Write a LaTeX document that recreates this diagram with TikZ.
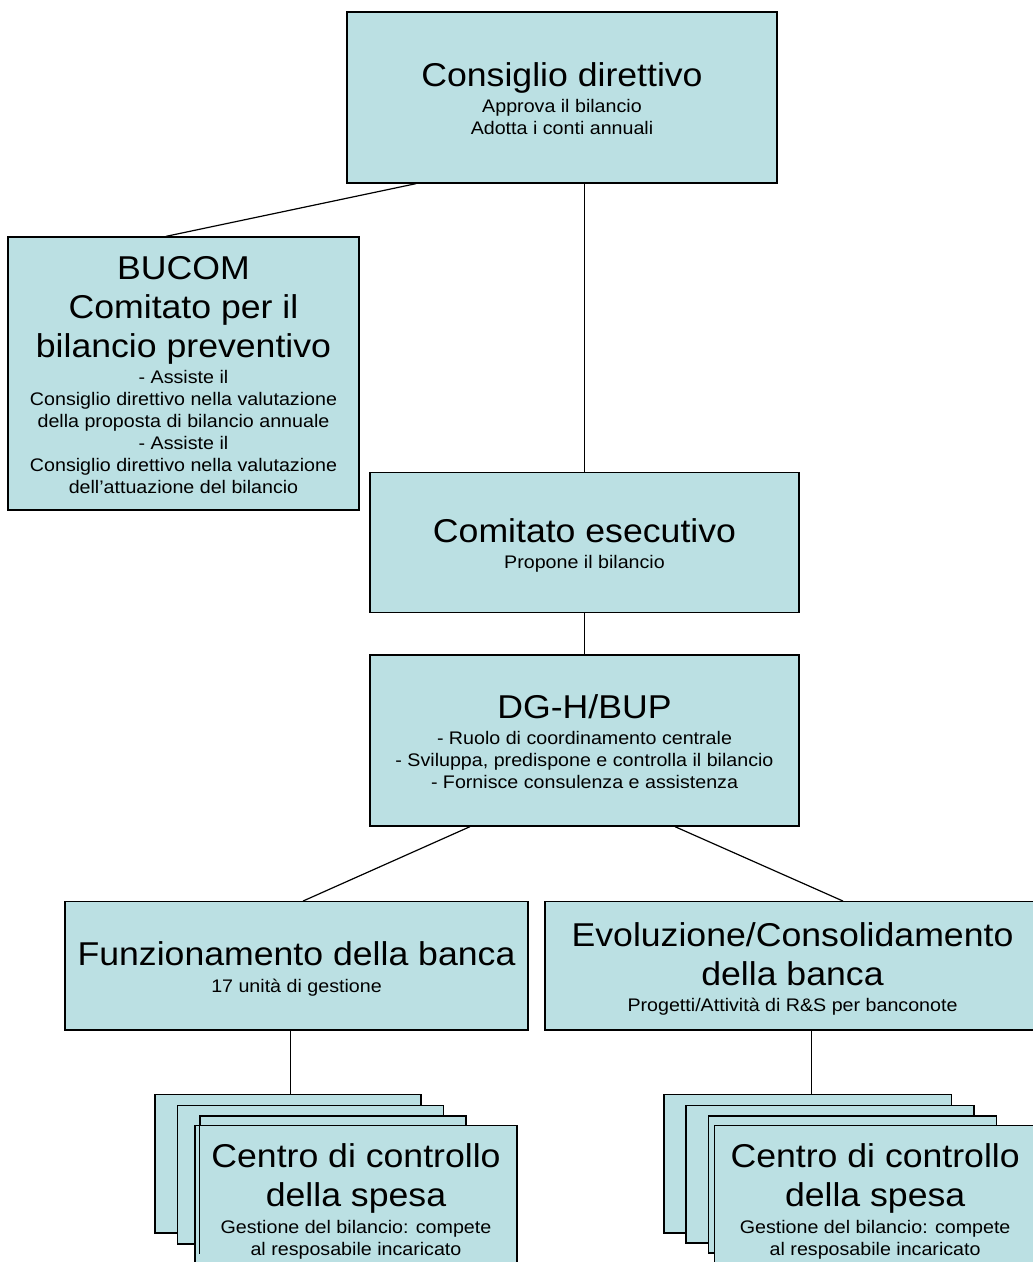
\documentclass[tikz,border=0pt]{standalone}
\usepackage{fontspec}
\setmainfont{Liberation Sans}
\newfontfamily\stretchsans[FakeStretch=1.08]{Liberation Sans}
\definecolor{boxfill}{HTML}{BBE0E3}
\newcommand\Tl[1]{{\stretchsans\fontsize{33}{0}\selectfont\rule[-8.85pt]{0pt}{39pt}#1}}
\newcommand\Sb[1]{{\stretchsans\fontsize{18.2}{0}\selectfont\rule[-4.35pt]{0pt}{22pt}#1}}
\tikzset{
  box/.style={draw=black, fill=boxfill, line width=1.3pt, inner sep=0pt, align=center,
    font={\setlength\baselineskip{0pt}\setlength\lineskip{0pt}\setlength\lineskiplimit{0pt}}},
  conn/.style={draw=black, line width=1.2pt},
  edge/.style={draw=black, line width=1.3pt}
}
\begin{document}
\begin{tikzpicture}[x=1pt,y=-1pt]
\useasboundingbox (0,0) rectangle (1033,1262);
% main boxes
\node[box, minimum width=430, minimum height=171] (cd) at (562,97.5)
  {\Tl{Consiglio direttivo}\\ \Sb{Approva il bilancio}\\ \Sb{Adotta i conti annuali}};
\node[box, minimum width=351, minimum height=273] (bucom) at (183.5,373.5)
  {\Tl{BUCOM}\\ \Tl{Comitato per il}\\ \Tl{bilancio preventivo}\\
   \Sb{- Assiste il}\\ \Sb{Consiglio direttivo nella valutazione}\\
   \Sb{della proposta di bilancio annuale}\\ \Sb{- Assiste il}\\
   \Sb{Consiglio direttivo nella valutazione}\\ \Sb{dell’attuazione del bilancio}};
\node[box, minimum width=429, minimum height=139.6] (ce) at (584.5,542.5)
  {\Tl{Comitato esecutivo}\\ \Sb{Propone il bilancio}};
\node[box, minimum width=429, minimum height=171] (dg) at (584.5,740.5)
  {\Tl{DG-H/BUP}\\ \Sb{- Ruolo di coordinamento centrale}\\
   \Sb{- Sviluppa, predispone e controlla il bilancio}\\
   \Sb{- Fornisce consulenza e assistenza}};
\node[box, minimum width=463, minimum height=128.3] (fz) at (296.5,965.85)
  {\Tl{Funzionamento della banca}\\ \Sb{17 unità di gestione}};
\node[box, minimum width=495, minimum height=128.3] (ev) at (792.5,965.85)
  {\Tl{Evoluzione/Consolidamento}\\ \Tl{della banca}\\
   \Sb{Progetti/Attività di R\&S per banconote}};
% left stack
\node[box, minimum width=266, minimum height=138.7] (l1) at (288,1163.65) {};
\node[box, minimum width=265.6, minimum height=138.3] (l2) at (310.5,1174.85) {};
\node[box, minimum width=265.7, minimum height=137] (l3) at (333.15,1184.5) {};
\node[box, minimum width=322, minimum height=146.2] (l4) at (356,1198.8)
  {\Tl{Centro di controllo}\\ \Tl{della spesa}\\
   \Sb{Gestione del bilancio: compete}\\ \Sb{al resposabile incaricato}};
\draw[edge] (l3.north west) -- (l3.south west);
% right stack
\node[box, minimum width=287.7, minimum height=138.7] (r1) at (807.85,1163.65) {};
\node[box, minimum width=288, minimum height=137.3] (r2) at (830,1174.35) {};
\node[box, minimum width=288, minimum height=137] (r3) at (852.7,1184.5) {};
\node[box, minimum width=321.7, minimum height=146.2] (r4) at (875.15,1198.8)
  {\Tl{Centro di controllo}\\ \Tl{della spesa}\\
   \Sb{Gestione del bilancio: compete}\\ \Sb{al resposabile incaricato}};
% connectors
\draw[conn] ([xshift=-146pt]cd.south) -- ([xshift=-17.5pt]bucom.north);
\draw[conn] (ce.north |- cd.south) -- (ce.north);
\draw[conn] (ce.south) -- (dg.north);
\draw[conn] ([xshift=-114.5pt]dg.south) -- ([xshift=6.5pt]fz.north);
\draw[conn] ([xshift=90.5pt]dg.south) -- ([xshift=50.5pt]ev.north);
\coordinate (fzb) at ([xshift=-5.8pt]fz.south);
\draw[conn] (fzb) -- (fzb |- l1.north);
\coordinate (evb) at ([xshift=19.2pt]ev.south);
\draw[conn] (evb) -- (evb |- r1.north);
\end{tikzpicture}
\end{document}
